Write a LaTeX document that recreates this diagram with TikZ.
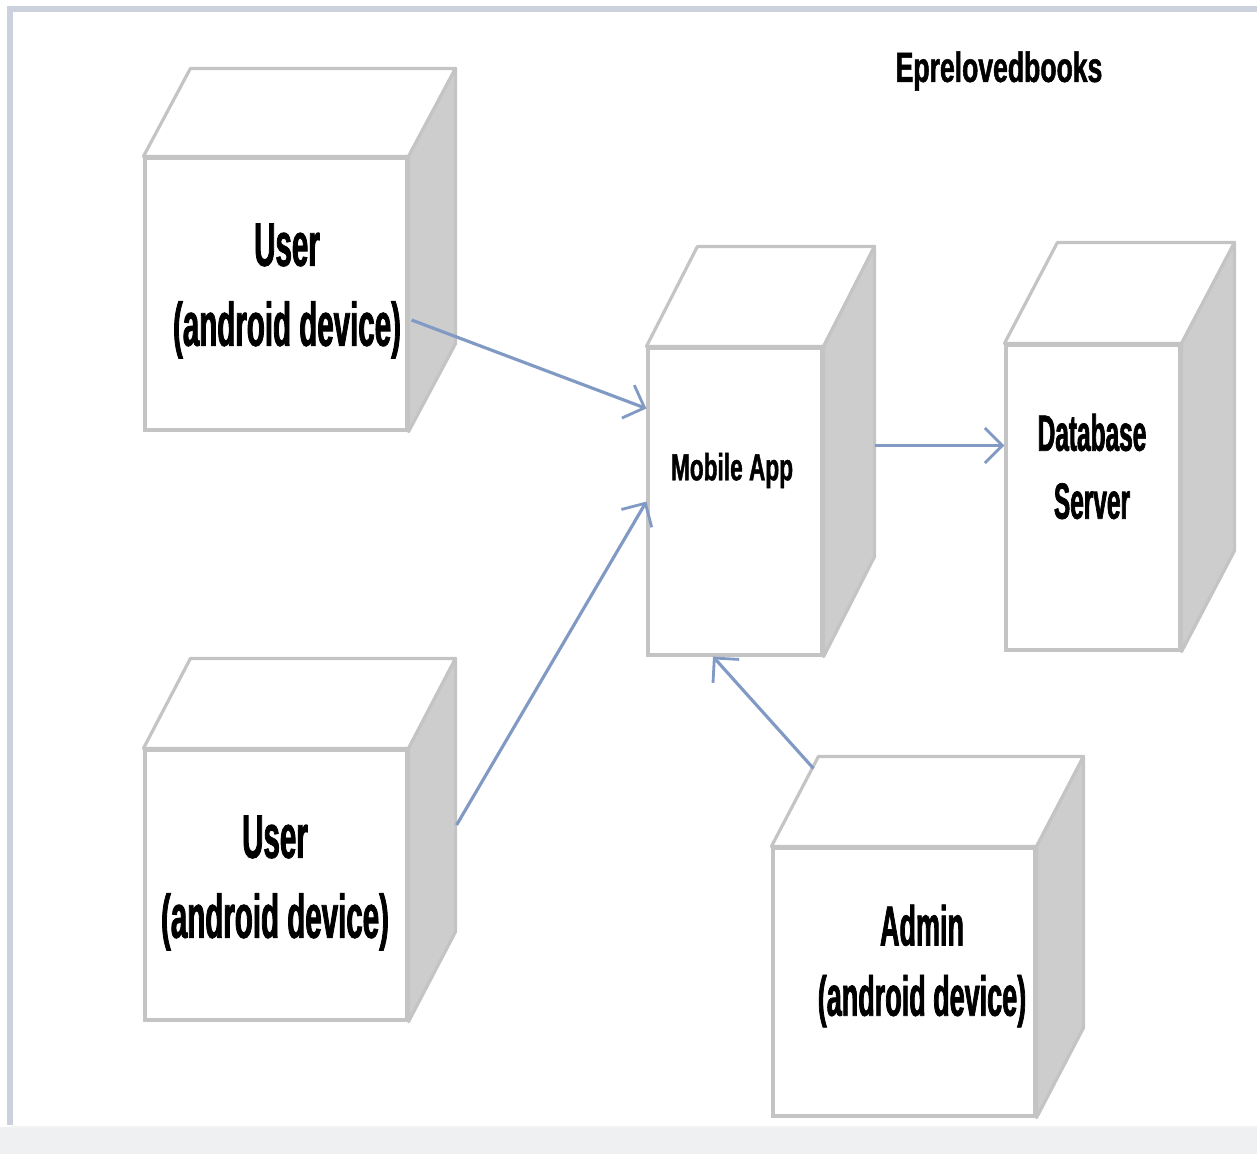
\documentclass[tikz,border=0pt]{standalone}
\usepackage{fontspec}
\setmainfont{Liberation Sans}
\newfontfamily\narrowfont[FakeStretch=0.48,BoldFeatures={FakeBold=1.3}]{Liberation Sans}
\newfontfamily\appfont[FakeStretch=0.6,BoldFeatures={FakeBold=1.1}]{Liberation Sans}
\newfontfamily\titlefont[FakeStretch=0.63,BoldFeatures={FakeBold=1.2}]{Liberation Sans}
\usetikzlibrary{arrows.meta}
\definecolor[named]{EdgeGray}{HTML}{C4C4C4}
\definecolor[named]{SideGray}{HTML}{CDCDCD}
\definecolor[named]{FlowBlue}{HTML}{819AC4}
\definecolor[named]{FrameBlue}{HTML}{CBD2DD}
\definecolor[named]{StripGray}{HTML}{EFF0F2}
\newcommand{\devbox}[6]{%
  \node[dev,minimum width=#3*0.02cm,minimum height=#4*0.02cm] (#1) at #2 {};
  \draw[devface,fill=white] (#1.north west) -- ++(#5,-#6)
    -- ([shift={(#5,-#6)}]#1.north east) -- (#1.north east) -- cycle;
  \draw[devface,fill=SideGray] (#1.north east) -- ++(#5,-#6)
    -- ([shift={(#5,-#6)}]#1.south east) -- (#1.south east) -- cycle;
}
\tikzset{
  dev/.style={draw=EdgeGray,line width=1.8pt,fill=white,rectangle,inner sep=0pt},
  devface/.style={draw=EdgeGray,line width=1.8pt,line join=round},
  flow/.style={draw=FlowBlue,line width=1.8pt,
    -{Straight Barb[length=10pt,width=20pt,line width=1.6pt]}},
  lbl/.style={font=\narrowfont\bfseries\fontsize{35}{45.5}\selectfont,
    align=center,inner sep=0pt},
}

\begin{document}
\begin{tikzpicture}[x=0.02cm,y=-0.02cm]
  \useasboundingbox (0,0) rectangle (1257,1154);
  % frame {{{
  \fill[StripGray] (0,1127) rectangle (1257,1154);
  \draw[StripGray!80!black!20!white,line width=1pt] (10,1127) -- (1257,1127);
  \draw[FrameBlue,line width=3pt] (10,1125) -- (10,9) -- (1257,9);
  % }}}

  \node[font=\titlefont\bfseries\fontsize{24}{28}\selectfont,inner sep=0pt]
    (title) at (999,71) {Eprelovedbooks};

  % devices {{{
  \devbox{user1}{(276,294)}{262}{272}{47}{88}
  \devbox{user2}{(276,885)}{262}{270}{47}{90}
  \devbox{app}{(735,501.5)}{174}{307}{51}{100}
  \devbox{db}{(1093,497.5)}{174}{305}{53}{101}
  \devbox{admin}{(904,982)}{262}{268}{47}{90}

  \node[lbl] (user1-l) at ([shift={(11,-3)}]user1.center) {User\\(android device)};
  \node[lbl] (user2-l) at ([shift={(-1,-2)}]user2.center) {User\\(android device)};
  \node[lbl,font=\narrowfont\bfseries\fontsize{32}{40}\selectfont]
    (admin-l) at ([shift={(18,-16)}]admin.center) {Admin\\(android device)};
  \node[lbl,font=\appfont\bfseries\fontsize{21.5}{25}\selectfont]
    (app-l) at ([shift={(-3,-31)}]app.center) {Mobile App};
  \node[lbl,font=\narrowfont\bfseries\fontsize{29}{38.7}\selectfont]
    (db-l) at ([shift={(-1,-31)}]db.center) {Database\\Server};
  % }}}

  % connectors {{{
  \draw[flow] ([shift={(3,26)}]user1.east) -- ([shift={(0,-93)}]app.west);
  \draw[flow] ([shift={(48,-60)}]user2.east) -- (app.west);
  \draw[flow] ([shift={(51,-56)}]app.east) -- ([shift={(0,-52)}]db.west);
  \draw[flow] ([shift={(42,-78)}]admin.north west) -- ([shift={(-22,0)}]app.south);
  % }}}
\end{tikzpicture}
\end{document}
